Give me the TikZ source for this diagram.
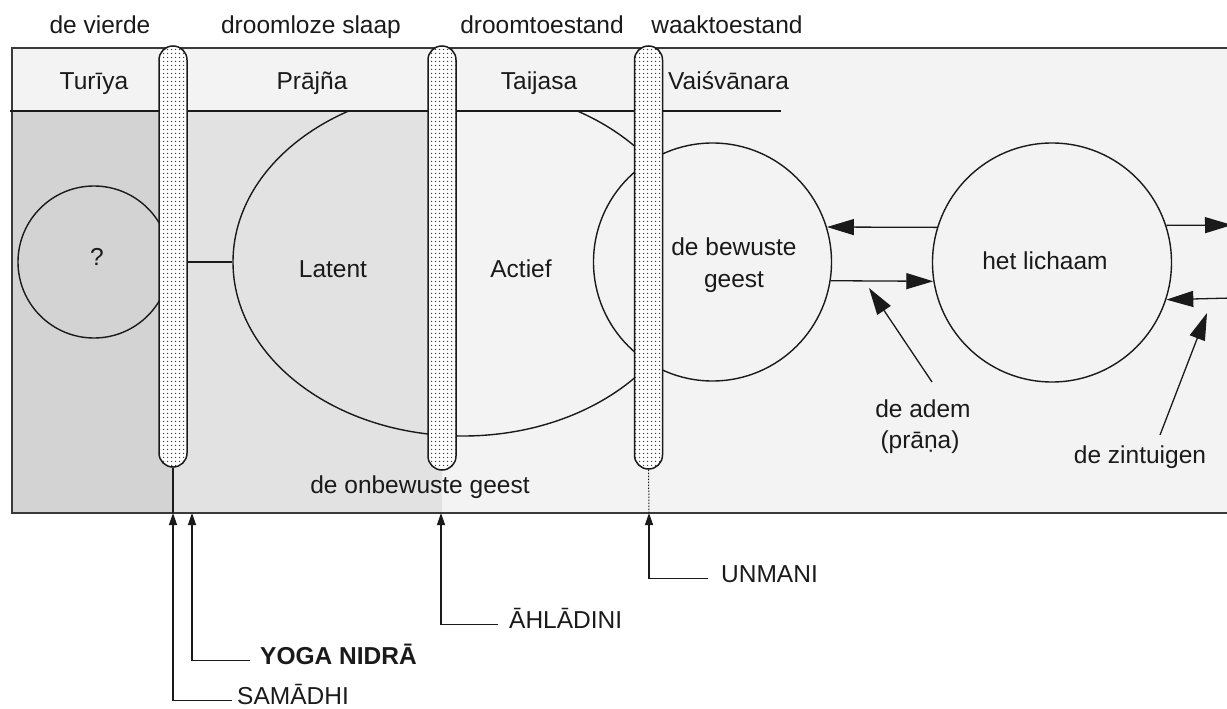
\documentclass[tikz,border=0pt]{standalone}
\usepackage{fontspec}
\setmainfont{Liberation Sans}
\usetikzlibrary{arrows.meta,patterns.meta,shapes.geometric,calc}
\definecolor{bgc}{HTML}{F3F3F3}
\definecolor{darkzone}{HTML}{D3D3D3}
\definecolor{midzone}{HTML}{E2E2E2}
\definecolor{framec}{HTML}{3A3A3A}
\definecolor{linec}{HTML}{1A1A1A}
\begin{document}
\begin{tikzpicture}[x=1pt,y=-1pt,
  font=\fontsize{24.5}{29}\selectfont,
  txt/.style={inner sep=0pt, text=linec},
  ring/.style={draw=linec, line width=1.4pt, circle, inner sep=0pt, fill=bgc},
  pill/.style={draw=linec, line width=1.5pt, rounded corners=13.9pt, minimum width=28pt, inner sep=0pt,
    preaction={fill=white}, pattern={Dots[distance=4pt,radius=0.8pt]}, pattern color=black!85},
  bigtip/.style={-{Triangle[length=27pt,width=16pt]}, line width=1.3pt, draw=linec},
  smalltip/.style={-{Triangle[length=12pt,width=8pt]}, line width=1.3pt, draw=linec},
  lbl/.style={txt, anchor=base west, text height=0.716em, text depth=0pt},
]
\useasboundingbox (0,0) rectangle (1227,709);
\fill[white] (0,0) rectangle (1227,709);
% zones
\fill[bgc] (12,48) rectangle (1240,513);
\fill[darkzone] (12,111) rectangle (173,513);
\fill[midzone] (173,111) rectangle (442,513);
\draw[framec, line width=2pt] (1240,48) -- (12,48) -- (12,513) -- (1240,513);
\draw[linec, line width=1.4pt] (10,111) -- (781,111);
% shapes
\node[ring, fill=none, minimum size=152pt] (qc) at (94,262) {};
\begin{scope}
  \clip (0,111) rectangle (1227,709);
  \node[draw=linec, line width=1.4pt, ellipse, minimum width=460pt, minimum height=348pt, inner sep=0pt] (mind) at (463,262) {};
\end{scope}
\node[ring, minimum size=238pt] (bewuste) at (712.5,262) {};
\node[ring, minimum size=239pt] (lichaam) at (1052,262.5) {};
% pills
\node[pill, minimum height=421pt] (pill1) at (173,256.5) {};
\node[pill, minimum height=424pt] (pill2) at (442,258) {};
\node[pill, minimum height=423pt] (pill3) at (648.5,257.5) {};
% texts
\node[txt, anchor=base] (t1) at (100,34) {de vierde};
\node[txt, anchor=base] (t2) at (311,34) {droomloze slaap};
\node[txt, anchor=base] (t3) at (542,34) {droomtoestand};
\node[txt, anchor=base] (t4) at (727,34) {waaktoestand};
\node[txt, anchor=base] (h1) at (94,90) {Turīya};
\node[txt, anchor=base] (h2) at (312,90) {Prājña};
\node[txt, anchor=base] (h3) at (539,90) {Taijasa};
\node[txt, anchor=base west] (h4) at (668,90) {Vaiśvānara};
\node[txt, anchor=base] (q) at (97,265) {?};
\node[txt, anchor=base] (latent) at (333,277) {Latent};
\node[txt, anchor=base] (actief) at (521,277) {Actief};
\node[txt, anchor=base] (bg1) at (734,255) {de bewuste};
\node[txt, anchor=base] (bg2) at (734,287) {geest};
\node[txt, anchor=base] (lich) at (1045,269) {het lichaam};
\node[txt, anchor=base] (adem1) at (923,417) {de adem};
\node[txt, anchor=base] (adem2) at (920,448) {(prāṇa)};
\node[txt, anchor=base] (zin) at (1140,463) {de zintuigen};
\node[txt, anchor=base] (onb) at (420,493) {de onbewuste geest};
\node[lbl] (samadhi) at (237,704) {SAMĀDHI};
\node[lbl, font=\fontsize{24.5}{29}\selectfont\bfseries] (yoga) at (260,664) {YOGA NIDRĀ};
\node[lbl] (ahl) at (509,628) {ĀHLĀDINI};
\node[lbl] (unm) at (721,582) {UNMANI};
% connectors
\draw[linec, line width=1.4pt] (pill1.east |- mind.west) -- (mind.west);
\coordinate (samB) at (173,513);
\coordinate (yogaB) at (192,513);
\coordinate (ahlB) at (441,513);
\coordinate (unmB) at (649,513);
\draw[linec, line width=1.3pt] (samB) -- (pill1.south);
\draw[linec, line width=1pt, dash pattern=on 1.5pt off 1.5pt] (unmB) -- (pill3.south);
\draw[smalltip] ([xshift=-5pt]samadhi.west) -| (samB);
\draw[smalltip] ([xshift=-10pt]yoga.west) -| (yogaB);
\draw[smalltip] ([xshift=-11pt]ahl.west) -| (ahlB);
\draw[smalltip] ([xshift=-13pt]unm.west) -| (unmB);
\draw[bigtip] (lichaam.163) -- (bewuste.17);
\draw[bigtip] (bewuste.-9) -- (lichaam.189);
\coordinate (rOut) at (1232,225);
\coordinate (rIn) at (1232,298);
\draw[bigtip] (lichaam.18) -- (rOut);
\draw[bigtip] (rIn) -- (lichaam.-18);
\coordinate (ademS) at (932,382);
\coordinate (ademT) at (869,288);
\draw[bigtip] (ademS) -- (ademT);
\coordinate (zinS) at (1160,435);
\coordinate (zinT) at (1207,313);
\draw[bigtip] (zinS) -- (zinT);
\end{tikzpicture}
\end{document}
